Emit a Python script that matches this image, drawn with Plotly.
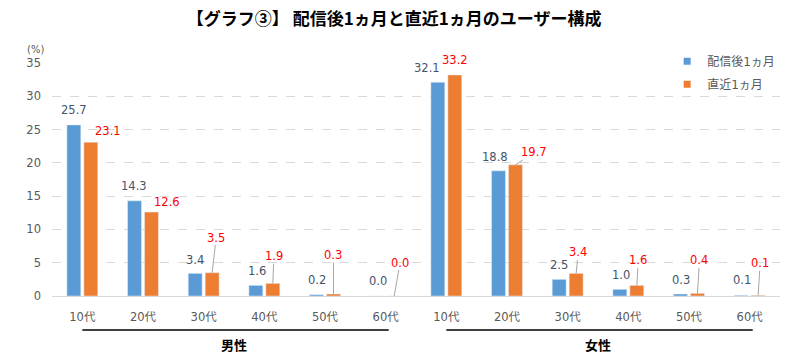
import plotly.graph_objects as go

# ---------------- data ----------------
ages = ["10代", "20代", "30代", "40代", "50代", "60代"]
genders = ["男性", "女性"]
series_names = ["配信後1ヵ月", "直近1ヵ月"]
male_after = [25.7, 14.3, 3.4, 1.6, 0.2, 0.0]
female_after = [32.1, 18.8, 2.5, 1.0, 0.3, 0.1]
male_recent = [23.1, 12.6, 3.5, 1.9, 0.3, 0.0]
female_recent = [33.2, 19.7, 3.4, 1.6, 0.4, 0.1]
y_ticks = [0, 5, 10, 15, 20, 25, 30, 35]
title_text = "【グラフ③】 配信後1ヵ月と直近1ヵ月のユーザー構成"

# label placement (pixels, relative to bar top centre)
blue_dx = [0, -0.5, 0, 1, 0, 1, -11, -4, 0, 1, 0, 1]
blue_dy = [15, 15, 13, 14, 15, 15, 14, 14, 14, 14, 14, 15]
orange_dx = [17, 15.5, 4, 1, 0, 6, 0, 18.5, 2, 1.5, 2, 2]
orange_dy = [11, 10, 35, 27, 39, 33.5, 15, 12.5, 21, 25, 33, 32]
orange_leader = [False, False, True, True, True, True, False, True, True, True, True, True]

# ---------------- styles ----------------
BLUE = "#5B9BD5"
ORANGE = "#ED7D31"
BLUE_TXT = "#44546A"
RED_TXT = "#FF0000"
GRAY_TXT = "#595959"
FONT = "DejaVu Sans, Noto Sans CJK JP"
CJK = "Noto Sans CJK JP"
BARGAP = 0.44

after = male_after + female_after
recent = male_recent + female_recent
n = len(after)
xs = list(range(n))
ticktext = ages * len(genders)
off = (1 - BARGAP) / 4.0

fig = go.Figure()
fig.add_trace(go.Bar(x=xs, y=after, name=series_names[0], marker_color=BLUE,
                     showlegend=False))
fig.add_trace(go.Bar(x=xs, y=recent, name=series_names[1], marker_color=ORANGE,
                     showlegend=False))
# legend entries with small square markers
fig.add_trace(go.Scatter(x=[None], y=[None], mode="markers", name=series_names[0],
                         marker=dict(symbol="square", size=7, color=BLUE),
                         legendgroup="a"))
fig.add_trace(go.Scatter(x=[None], y=[None], mode="markers", name=series_names[1],
                         marker=dict(symbol="square", size=7, color=ORANGE),
                         legendgroup="b"))

ann = []
for i in range(n):
    ann.append(dict(x=i - off, y=after[i], xref="x", yref="y", text=f"{after[i]:.1f}",
                    showarrow=False, xshift=blue_dx[i], yshift=blue_dy[i],
                    xanchor="center", yanchor="middle",
                    font=dict(family=FONT, size=11.5, color=BLUE_TXT)))
    if orange_leader[i]:
        ann.append(dict(x=i + off, y=recent[i], xref="x", yref="y", text=f"{recent[i]:.1f}",
                        showarrow=True, arrowhead=0, arrowwidth=1, arrowcolor="#A6A6A6",
                        ax=orange_dx[i], ay=-orange_dy[i], standoff=0, borderpad=0,
                        font=dict(family=FONT, size=11.5, color=RED_TXT)))
    else:
        ann.append(dict(x=i + off, y=recent[i], xref="x", yref="y", text=f"{recent[i]:.1f}",
                        showarrow=False, xshift=orange_dx[i], yshift=orange_dy[i],
                        xanchor="center", yanchor="middle",
                        font=dict(family=FONT, size=11.5, color=RED_TXT)))

shapes = []
k = len(ages)
for g, name in enumerate(genders):
    first = g * k
    last = g * k + k - 1
    shapes.append(dict(type="line", xref="x", yref="paper", x0=first, x1=last + 0.05,
                       y0=-0.146, y1=-0.146, line=dict(color="black", width=1.5)))
    ann.append(dict(x=(first + last) / 2.0, y=-0.21, xref="x", yref="paper", text=f"<b>{name}</b>",
                    showarrow=False, xanchor="center", yanchor="middle",
                    font=dict(family=CJK, size=13, color="black")))

ann.append(dict(x=-0.023, y=1.06, xref="paper", yref="paper", text="(%)", showarrow=False,
                xanchor="center", yanchor="middle",
                font=dict(family=FONT, size=10, color=GRAY_TXT)))

fig.update_layout(
    width=793, height=358,
    margin=dict(l=52, r=13, t=63, b=62, autoexpand=False),
    paper_bgcolor="white", plot_bgcolor="white",
    barmode="group", bargap=BARGAP, bargroupgap=0.18,
    title=dict(text=f"<b>{title_text}</b>", x=0.497, xanchor="center", y=0.947, yanchor="middle",
               font=dict(family=CJK, size=17, color="black")),
    legend=dict(x=0.845, y=1.07, xanchor="left", yanchor="top", bgcolor="rgba(0,0,0,0)",
                font=dict(family=FONT, size=12, color=GRAY_TXT), tracegroupgap=4,
                traceorder="grouped"),
    annotations=ann, shapes=shapes,
    font=dict(family=FONT),
)
fig.update_xaxes(range=[-0.5, n - 0.5], tickvals=xs, ticktext=ticktext, showgrid=False,
                 showline=True, linecolor="#D9D9D9", linewidth=1, ticks="",
                 ticklabelstandoff=10, tickfont=dict(family=FONT, size=11.5, color=GRAY_TXT),
                 zeroline=False)
fig.update_yaxes(range=[0, 35], tickvals=y_ticks, showgrid=True, gridcolor="#D9D9D9",
                 griddash="dash", gridwidth=1, zeroline=False, showline=False, ticks="",
                 ticklabelstandoff=10, tickfont=dict(family=FONT, size=11.5, color=GRAY_TXT))

fig.write_html("out.html", config={"displayModeBar": False},
               post_script="document.body.style.margin='0';")
